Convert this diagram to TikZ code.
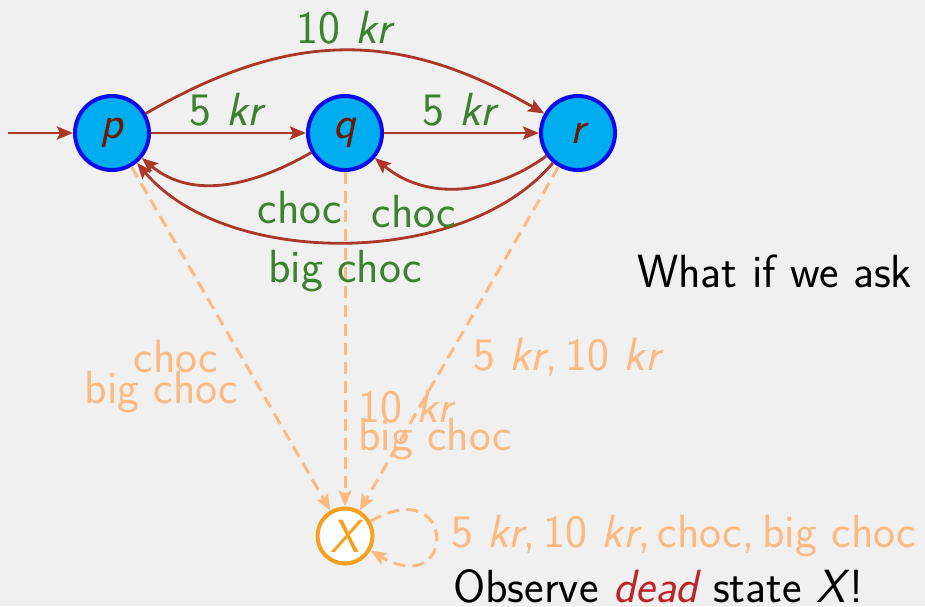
\documentclass[tikz,border=0pt]{standalone}
\usetikzlibrary{arrows.meta}
\definecolor{bgc}{RGB}{240,240,240}
\definecolor{stfill}{RGB}{0,174,239}
\definecolor{stborder}{RGB}{10,10,235}
\definecolor{sttext}{RGB}{110,26,0}
\definecolor{arrc}{RGB}{170,55,40}
\definecolor{labc}{RGB}{58,130,45}
\definecolor{deadc}{RGB}{253,185,128}
\definecolor{xorange}{RGB}{245,160,30}
\definecolor{deadred}{RGB}{190,35,40}
\begin{document}
\begin{tikzpicture}[x=1pt,y=1pt,
  font={\fontsize{46.5}{54}\selectfont\sffamily},
  stnode/.style={circle,draw=stborder,fill=stfill,line width=4pt,minimum size=74pt,inner sep=0pt,text=sttext},
  xnode/.style={circle,draw=xorange,fill=white,line width=4pt,minimum size=55pt,inner sep=0pt,text=xorange},
  arrst/.style={draw=arrc,line width=2.8pt,-{Stealth[length=16pt,width=13pt,inset=3pt]}},
  deadarr/.style={draw=deadc,line width=3pt,dash pattern=on 12pt off 7pt,-{Stealth[length=16pt,width=13pt,inset=3pt]}},
  lab/.style={text=labc,inner sep=0pt,anchor=base},
  dlab/.style={text=deadc,inner sep=0pt,anchor=base},
  txt/.style={text=black,inner sep=0pt,anchor=base west}]
\fill[bgc] (0,0) rectangle (925,-606);
\useasboundingbox (0,0) rectangle (925,-606);
\node[stnode] (p) at (112,-133) {\itshape p};
\node[stnode] (q) at (345,-133) {\itshape q};
\node[stnode] (r) at (578,-133) {\itshape r};
\node[xnode] (X) at (345,-536) {\itshape X};
\coordinate (init) at (8,-133);
\draw[arrst] (init) -- (p);
\draw[arrst] (p) -- (q);
\draw[arrst] (q) -- (r);
\draw[arrst] (p) to[out=30,in=150,looseness=1.08] (r);
\draw[arrst] (q) to[out=210,in=-40] (p);
\draw[arrst] (r) to[out=216,in=-40] (q);
\draw[arrst] (r) to[out=-130,in=-50,looseness=0.85] (p);
\draw[deadarr] (p) -- (X);
\draw[deadarr] (q) -- (X);
\draw[deadarr] (r) -- (X);
\draw[deadarr] (X) to[out=30,in=-30,distance=100pt] (X);
\node[lab] (l10) at (346,-43) {10 \textit{kr}};
\node[lab] (l5a) at (228,-125) {5 \textit{kr}};
\node[lab] (l5b) at (461,-125) {5 \textit{kr}};
\node[lab] (lc1) at (300,-223) {choc};
\node[lab] (lc2) at (414,-227) {choc};
\node[lab] (lbc) at (345,-282) {big choc};
\node[dlab] (dc1) at (176,-372) {choc};
\node[dlab] (dc2) at (161.5,-403) {big choc};
\node[dlab,anchor=base west] (dq1) at (358,-422) {10 \textit{kr}};
\node[dlab,anchor=base west] (dq2) at (358,-450) {big choc};
\node[dlab,anchor=base west] (dr) at (473,-370) {5 \textit{kr},\,10 \textit{kr}};
\node[dlab,anchor=base west] (dx) at (451,-547) {5 \textit{kr},\,10 \textit{kr},\,choc,\,big choc};
\node[txt] (t1) at (637,-287) {What if we ask f};
\node[txt] (t2) at (453,-602) {Observe \textcolor{deadred}{\itshape dead} state \textit{X}!};
\end{tikzpicture}
\end{document}
